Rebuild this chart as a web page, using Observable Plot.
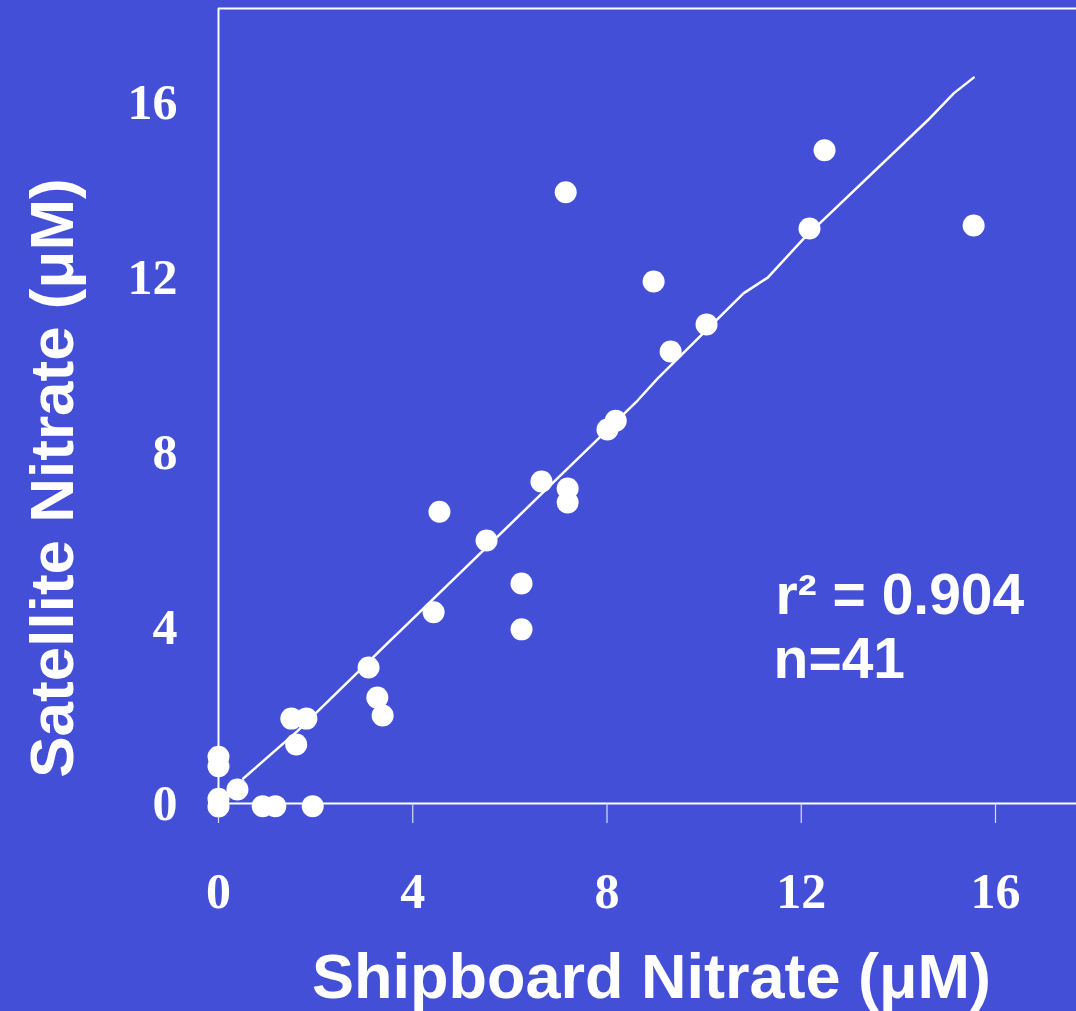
<!DOCTYPE html>
<html>
<head>
<meta charset="utf-8">
<script src="https://cdn.jsdelivr.net/npm/d3@7"></script>
<script src="https://cdn.jsdelivr.net/npm/@observablehq/plot@0.6"></script>
<style>
  html, body { margin: 0; padding: 0; background: #434FD6; }
  #chart svg { display: block; }
</style>
</head>
<body>
<div id="chart"></div>
<script>
// Shipboard (x) vs satellite (y) nitrate, µM
const shipboard = [0, 0, 0, 0, 0.39, 0.91, 1.17, 1.94, 1.50, 1.81, 1.60,
  3.09, 3.27, 3.38, 4.43, 4.55, 5.52, 6.24, 6.24, 6.65, 7.19, 7.19, 8.01, 8.18,
  7.15, 8.96, 9.31, 10.05, 12.17, 12.48, 15.55];
const satellite = [1.07, 0.85, 0.11, -0.07, 0.32, -0.06, -0.06, -0.06, 1.94, 1.94, 1.35,
  3.11, 2.42, 2.01, 4.37, 6.67, 6.01, 5.03, 3.98, 7.36, 7.20, 6.88, 8.55, 8.75,
  13.97, 11.93, 10.33, 10.95, 13.14, 14.93, 13.21];

// fitted line (drawn slightly irregular in the original)
const fitX = [0.51, 1.63, 2.86, 3.54, 3.75, 8.63, 9.04, 10.81, 11.31, 12.05, 14.60, 15.14, 15.55];
const fitY = [0.57, 1.66, 2.99, 3.73, 3.95, 9.21, 9.71, 11.66, 12.02, 12.91, 15.61, 16.23, 16.59];

const ticks = [0, 4, 8, 12, 16];
const xMax = 17.668, yMax = 18.17;

const xTitle = "Shipboard Nitrate (μM)";
const yTitle = "Satellite Nitrate (μM)";
const annoText = ["r² = 0.904", "n=41"];
const annoX = [11.47, 11.43];
const annoY = [4.34, 2.86];

const points = shipboard.map((x, i) => ({x, y: satellite[i]}));
const fit = fitX.map((x, i) => ({x, y: fitY[i]}));
const anno = annoText.map((t, i) => ({t, x: annoX[i], y: annoY[i]}));

const serif = "'Liberation Serif', 'Times New Roman', serif";
const sans = "'Liberation Sans', Arial, sans-serif";

const chart = Plot.plot({
  width: 1076,
  height: 1011,
  marginLeft: 218,
  marginRight: 0,
  marginTop: 8,
  marginBottom: 208,
  style: {background: "#434FD6", color: "white", overflow: "visible"},
  x: {domain: [0, xMax], axis: null},
  y: {domain: [0, yMax], axis: null},
  marks: [
    // frame lines
    Plot.ruleY([0], {stroke: "white", strokeWidth: 2}),
    Plot.ruleY([yMax], {stroke: "white", strokeWidth: 2}),
    Plot.ruleX([0], {stroke: "white", strokeWidth: 2}),
    // x tick marks
    Plot.axisX({ticks, tickSize: 20, text: null, label: null, stroke: "#d8dcf4", strokeWidth: 1.2}),
    // x tick labels
    Plot.axisX({ticks, tickSize: 0, tickPadding: 69, label: null, fill: "white", fontSize: 50,
      fontFamily: serif, fontWeight: "bold"}),
    // y tick labels
    Plot.axisY({ticks, tickSize: 0, tickPadding: 41, label: null, fill: "white", fontSize: 50,
      fontFamily: serif, fontWeight: "bold"}),
    Plot.line(fit, {x: "x", y: "y", stroke: "white", strokeWidth: 2.5, curve: "linear"}),
    Plot.dot(points, {x: "x", y: "y", r: 11, fill: "white"}),
    Plot.text(anno, {x: "x", y: "y", text: "t", textAnchor: "start", lineAnchor: "bottom",
      fill: "white", fontSize: 57, fontFamily: sans, fontWeight: "bold"}),
    Plot.text([xTitle], {frameAnchor: "bottom", dx: 4, dy: 194, textAnchor: "middle", lineAnchor: "bottom",
      fill: "white", fontSize: 63, fontFamily: sans, fontWeight: "bold"}),
    Plot.text([yTitle], {frameAnchor: "left", dx: -146, dy: 72, rotate: -90, textAnchor: "middle",
      lineAnchor: "bottom", fill: "white", fontSize: 62, fontFamily: sans, fontWeight: "bold"})
  ]
});
document.getElementById("chart").appendChild(chart);
</script>
</body>
</html>
